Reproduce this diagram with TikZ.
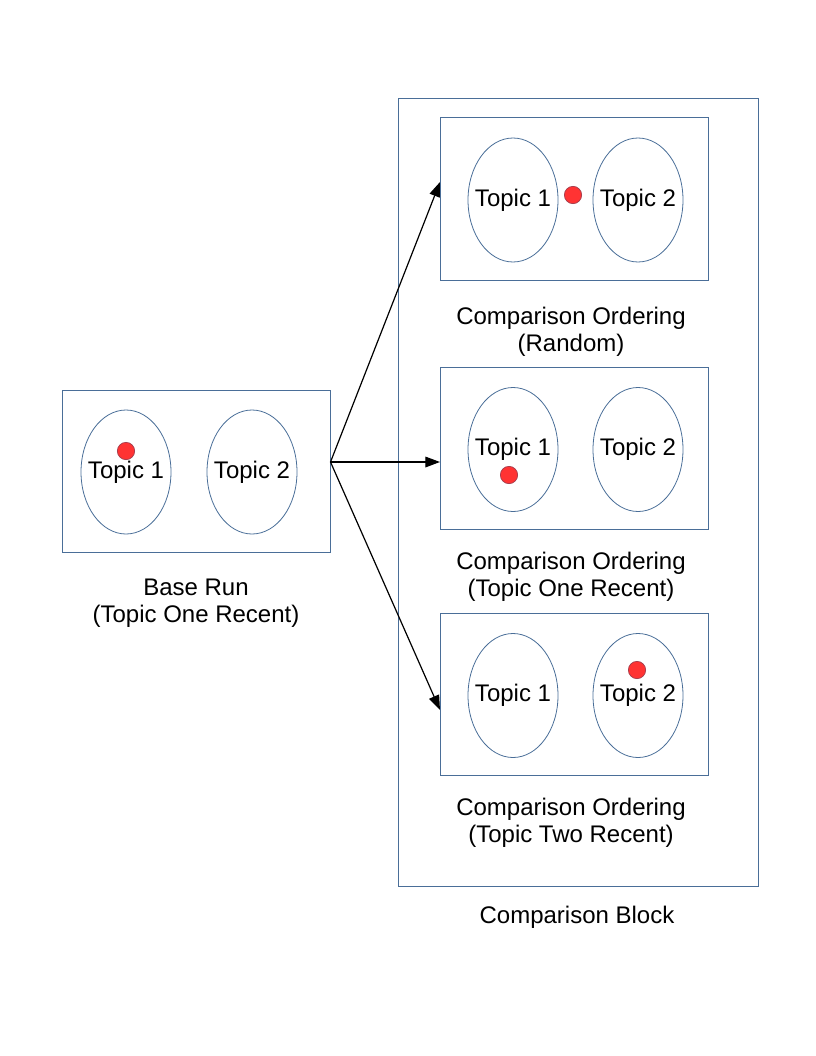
\documentclass[tikz,border=0pt]{standalone}
\usepackage{fontspec}
\setmainfont{Liberation Sans}
\usetikzlibrary{arrows.meta,calc,positioning,shapes.geometric}
\definecolor{boxblue}{HTML}{4A6E98}
\definecolor{dotred}{HTML}{FF3333}
\definecolor{dotrim}{HTML}{A03A4A}

\begin{document}
\begin{tikzpicture}[x=0.75pt,y=-0.75pt,>={Triangle[length=11pt,width=8pt]},
          every node/.style={font=\fontsize{18}{20}\selectfont},
          runbox/.style={draw=boxblue,line width=0.75pt,minimum width=201pt,
            minimum height=122pt,inner sep=0pt},
          blockbox/.style={draw=boxblue,line width=0.75pt,minimum width=270pt,
            minimum height=591pt,inner sep=0pt},
          topic/.style={ellipse,draw=boxblue,line width=0.6pt,minimum width=67.5pt,
            minimum height=93pt,inner sep=0pt,label={[inner sep=0pt]center:#1}},
          dot/.style={circle,fill=dotred,draw=dotrim,line width=0.5pt,
            minimum size=13pt,inner sep=0pt},
          caption/.style={align=center,inner sep=0pt}]
        \useasboundingbox (0,0) rectangle (816,1056);
        % base run
        \node[runbox] (base) at (196,471.5) {};
        \node[topic=Topic 1] (base-t1) at (126,472) {};
        \node[topic=Topic 2] (base-t2) at (252,472) {};
        \node[dot] (base-dot) at (126,451) {};
        \node[caption] (base-lab) at (196,603) {Base Run\\(Topic One Recent)};
        % comparison block
        \node[blockbox] (block) at (578,492) {};
        \node[caption] (block-lab) at (577,917) {Comparison Block};
        \foreach \n/\y/\dotx/\doty/\laby/\sub in {cmp1/199/573/195/332/Random,
            cmp2/448.5/509/475/577/Topic One Recent,
            cmp3/694.5/637/670/823/Topic Two Recent} {
          \node[runbox] (\n) at (574.5,\y) {};
          \node[topic=Topic 1] (\n-t1) at (513,\y+1) {};
          \node[topic=Topic 2] (\n-t2) at (638,\y+1) {};
          \node[dot] (\n-dot) at (\dotx,\doty) {};
          \node[caption] (\n-lab) at (571,\laby) {Comparison Ordering\\(\sub)};
        }
        \coordinate (fork) at ($(base.east)+(0,-9.5)$);
        \draw[->,line width=0.9pt] (fork) -- ($(cmp1.west)+(0,-17)$);
        \draw[->,line width=0.9pt] (fork) -- ($(cmp2.west)+(0,13.5)$);
        \draw[->,line width=0.9pt] (fork) -- ($(cmp3.west)+(0,15.5)$);
      \end{tikzpicture}
\end{document}
